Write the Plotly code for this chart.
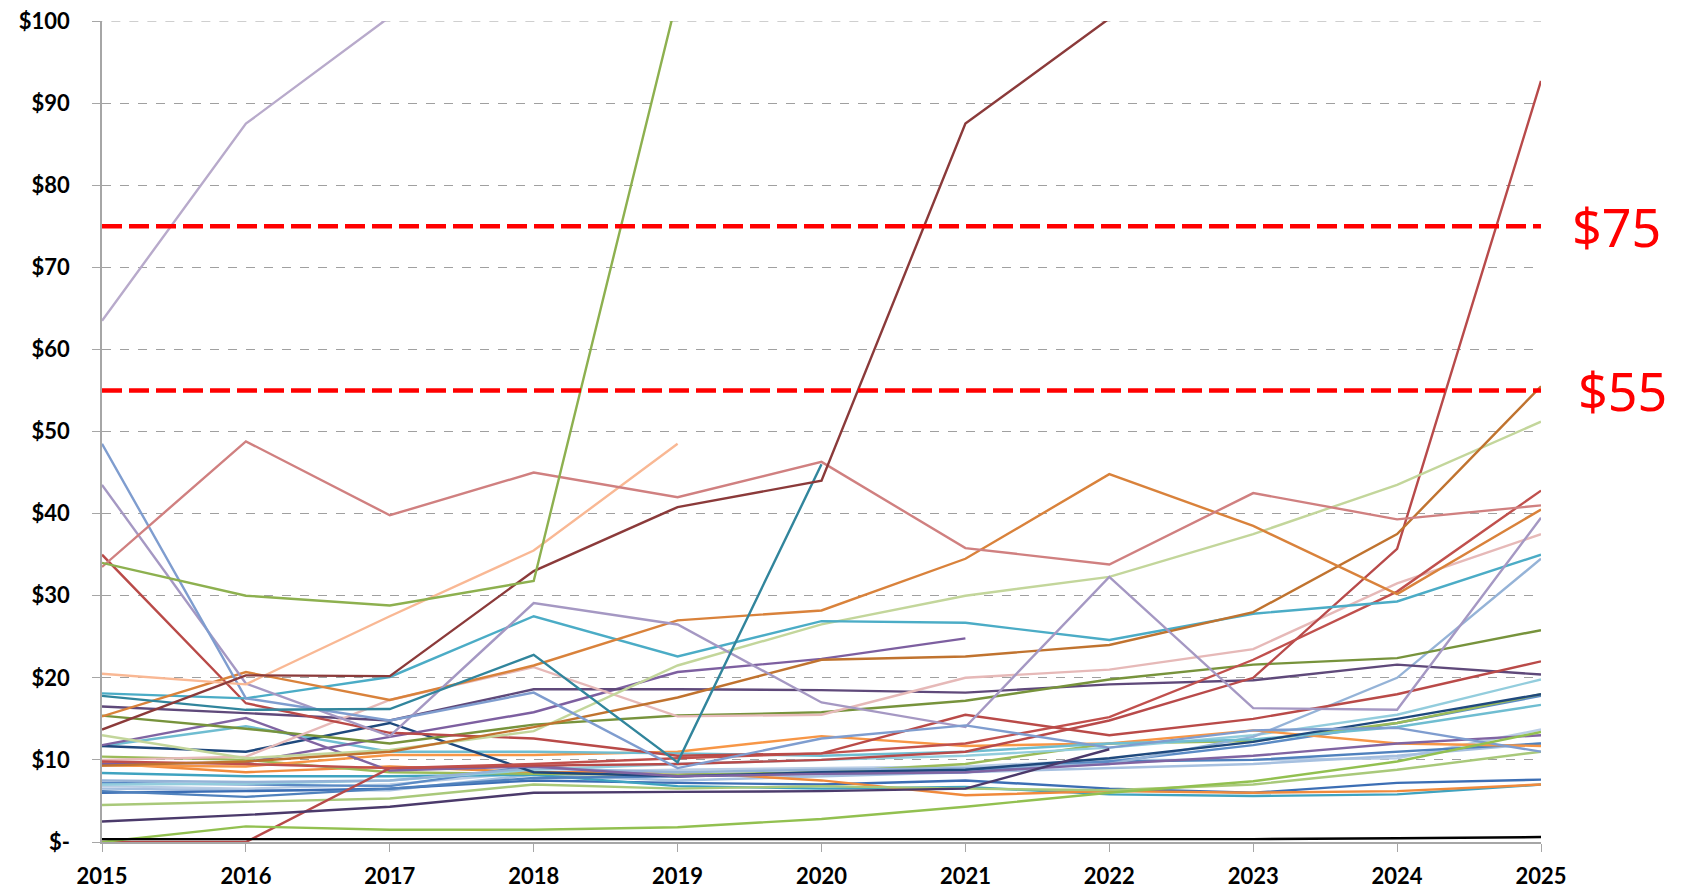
import plotly.graph_objects as go

years = [2015, 2016, 2017, 2018, 2019, 2020, 2021, 2022, 2023, 2024, 2025]

# Series values ($), None = no data
lav_top      = [63.5, 87.5, 100.5, 120, 130, 140, 150, 160, 170, 180, 190]
olive_top    = [34, 30, 28.8, 31.8, 103, 120, 130, 140, 150, 160, 170]
brown        = [13.7, 20.3, 20.2, 33, 40.8, 44, 87.5, 100.3, 115, 125, 135]
teal         = [17.8, 16.1, 16.2, 22.8, 9.7, 46, None, None, None, None, None]
rose         = [33.5, 48.8, 39.8, 45, 42, 46.3, 35.8, 33.8, 42.5, 39.3, 41]
peach        = [20.5, 19.2, 27.5, 35.5, 48.5, None, None, None, None, None, None]
bluegray     = [48.5, 17.5, 14.8, 18.2, 9, 12.6, 14.2, 11.5, 13.6, 13.9, 11]
lavender     = [43.5, 19.3, 12.9, 29.1, 26.5, 17, 14, 32.3, 16.3, 16.1, 39.5]
orange_big   = [15.3, 20.7, 17.3, 21.5, 27, 28.2, 34.5, 44.8, 38.5, 30.2, 40.5]
orange_brown = [9.3, 9.8, 11, 14, 17.6, 22.2, 22.6, 24, 28, 37.5, 55.5]
cyan         = [18.1, 17.5, 20.1, 27.5, 22.6, 26.9, 26.7, 24.6, 27.8, 29.3, 35]
lightgreen   = [13, 10.2, 11.2, 13.5, 21.5, 26.5, 30, 32.3, 37.5, 43.5, 51.2]
red          = [35, 16.9, 13.3, 12.6, 10.5, 10.8, 15.5, 13, 15, 18, 22]
red_a        = [9.8, 9.5, 9, 9.5, 10.2, 10.8, 12, 15.2, 22.2, 30.5, 42.8]
red_b        = [0, 0, 9, 9.3, 9.5, 10, 11, 14.8, 20, 35.7, 92.7]
pink         = [10, 10.4, 17.3, 21.3, 15.3, 15.5, 20, 21, 23.5, 31.5, 37.5]
olive        = [15.4, 13.8, 12, 14.3, 15.4, 15.8, 17.2, 19.8, 21.6, 22.4, 25.8]
purple       = [16.5, 15.7, 14.8, 18.6, 18.6, 18.5, 18.2, 19.2, 19.7, 21.6, 20.4]
violet       = [11.8, 15.1, 8.7, 9.2, 8, 8.3, 8.5, 9.5, 10.5, 12, 13]
violet2      = [9.5, 9.7, 12.8, 15.8, 20.7, 22.3, 24.8, None, None, None, None]
navy         = [11.7, 11, 14.5, 8.5, 8, 8.5, 8.8, 10.2, 12.2, 15, 18]
lightcyan    = [11.7, 14.1, 11, 11, 10.8, 10.5, 11, 12, 12.5, 14, 16.7]
orange       = [9.3, 9.2, 10.6, 10.6, 11, 12.9, 11.7, 12, 13.6, 12, 11.7]
lightblue    = [7.5, 7.3, 7.5, 9, 8.5, 8.8, 9, 9.5, 12.8, 20, 34.5]
aqualight    = [7, 7.1, 7.5, 8.8, 9.5, 10, 10.5, 11.5, 13, 15.5, 19.8]
green        = [10.4, 10, 8.5, 8.3, 8.2, 8.5, 9.5, 12, 12.3, 14.5, 18]
bluepale     = [6.8, 6.5, 7, 8.5, 8.8, 9, 9.2, 10, 10, 10.2, 13.7]
blue         = [6.2, 5.5, 6.5, 7.8, 8, 8.5, 8.8, 9.8, 10, 11, 12]
green2       = [4.5, 4.9, 5.3, 7, 6.5, 6.8, 6.5, 6.3, 7, 8.8, 11]
blue2        = [6, 6.2, 6.5, 7.5, 7.2, 7, 7.5, 6.5, 6, 7.2, 7.6]
orange2      = [9.6, 8.5, 9.2, 8.5, 8.5, 7.5, 5.7, 6.2, 6, 6.2, 7]
aqua2        = [8.4, 8, 8, 8.2, 6.8, 6.5, 6.7, 5.8, 5.6, 5.8, 7]
green_bottom = [0, 1.9, 1.5, 1.5, 1.8, 2.8, 4.3, 6, 7.4, 9.8, 13.4]
darkpurple   = [2.5, 3.3, 4.3, 6, 6.1, 6.2, 6.5, 11.3, None, None, None]
blue3        = [7.2, 7, 6.8, 9.3, 8, 8.3, 8.5, 9.8, 11.8, 14.5, 17.8]
bluelight2   = [6.5, 6.3, 6.3, 8.2, 7.5, 8.0, 8.5, 9, 9.5, 10.5, 12]
black        = [0.35, 0.35, 0.35, 0.35, 0.35, 0.35, 0.35, 0.35, 0.35, 0.45, 0.6]

thresholds = [75, 55]
threshold_labels = ["$75", "$55"]
ytick_vals = [0, 10, 20, 30, 40, 50, 60, 70, 80, 90, 100]
ytick_text = ["$-", "$10", "$20", "$30", "$40", "$50", "$60", "$70", "$80", "$90", "$100"]

series = [
    (bluepale, "#B9CDE5"), (bluelight2, "#A6C0E0"), (blue2, "#3C6EB4"),
    (aqua2, "#3FA3C0"), (orange2, "#F08A3C"), (blue, "#4F81BD"),
    (green2, "#A9C97A"), (blue3, "#5B8BC5"), (green, "#9BBB59"),
    (aqualight, "#93CDDD"), (lightblue, "#95B3D7"), (orange, "#F79646"),
    (lightcyan, "#6FBDD1"), (navy, "#1F497D"), (violet2, "#7D5FA0"),
    (violet, "#8064A2"), (purple, "#5F497A"), (olive, "#77933C"),
    (pink, "#E6B9B8"), (red_b, "#B84A4A"), (red_a, "#C0504D"), (red, "#B94A48"),
    (lightgreen, "#C3D69B"), (cyan, "#4BACC6"), (orange_brown, "#C0732F"),
    (orange_big, "#D9823B"), (lavender, "#A598C3"), (bluegray, "#7F9DCF"),
    (peach, "#F9B894"), (rose, "#D08080"), (teal, "#31859C"),
    (brown, "#8B3A3A"), (olive_top, "#8DB04F"), (lav_top, "#B8AACB"),
    (green_bottom, "#92C050"), (darkpurple, "#4B3A6B"), (black, "#000000"),
]

fig = go.Figure()
for vals, col in series:
    fig.add_trace(go.Scatter(x=years, y=vals, mode="lines",
                             line=dict(color=col, width=2.4),
                             connectgaps=False, showlegend=False,
                             hoverinfo="skip"))

for t in thresholds:
    fig.add_trace(go.Scatter(x=[years[0], years[-1]], y=[t, t], mode="lines",
                             line=dict(color="#FF0000", width=4.5, dash="20px,7px"),
                             showlegend=False, hoverinfo="skip"))

for t, lab, xp in zip(thresholds, threshold_labels, [1.02, 1.024]):
    fig.add_annotation(x=xp, xref="paper", y=t, yref="y", text=lab,
                       showarrow=False, xanchor="left", yanchor="middle",
                       font=dict(family="Noto Sans", size=52, color="#FF0000"))

# top gridline at $100 (plotly omits the grid line at the range edge)
fig.add_shape(type="line", xref="paper", yref="y", x0=-0.006, x1=1, y0=100, y1=100,
              line=dict(color="#A0A0A0", width=1, dash="dash"), layer="below")

fig.update_layout(
    width=1690, height=892,
    margin=dict(l=94, r=157, t=13, b=58, autoexpand=False),
    paper_bgcolor="white", plot_bgcolor="white",
    showlegend=False,
)
fig.update_xaxes(range=[2015, 2025], tickvals=years, ticktext=[str(y) for y in years],
                 showgrid=False, zeroline=False, showline=True, linecolor="#A6A6A6",
                 linewidth=1.5, ticks="outside", ticklen=8, tickcolor="#A6A6A6",
                 automargin=False, ticklabelstandoff=6, ticklabeloverflow="allow",
                 tickfont=dict(family="Lato", size=22, color="black", weight="bold"))
fig.update_yaxes(range=[0, 100], tickvals=ytick_vals, ticktext=ytick_text,
                 showgrid=True, gridcolor="#A0A0A0", griddash="dash", gridwidth=1,
                 zeroline=False, showline=True, linecolor="#A6A6A6", linewidth=1.5,
                 ticks="outside", ticklen=8, tickcolor="#A6A6A6", automargin=False,
                 ticklabelstandoff=18, ticklabeloverflow="allow",
                 tickfont=dict(family="Lato", size=22, color="black", weight="bold"))

fig.write_html("out.html")
